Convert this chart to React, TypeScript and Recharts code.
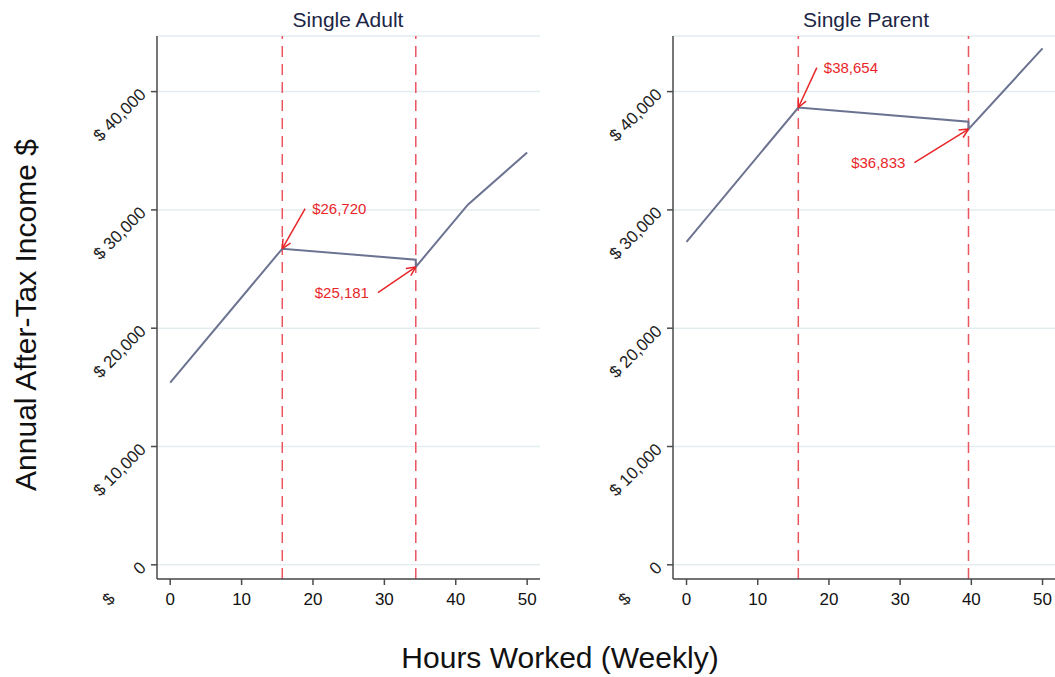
import React from 'react';
import { LineChart, Line, XAxis, YAxis, CartesianGrid, ReferenceLine } from 'recharts';

// hours worked (weekly) vs annual after-tax income
const adultHours = [0, 15.7, 34.4, 34.4, 41.7, 50];
const adultIncome = [15400, 26720, 25790, 25181, 30440, 34850];
const parentHours = [0, 15.7, 39.6, 39.6, 50];
const parentIncome = [27300, 38654, 37450, 36833, 43650];

const adultCliffs = [15.7, 34.4];
const parentCliffs = [15.7, 39.6];

const hourTicks = [0, 10, 20, 30, 40, 50];
const incomeTicks = [0, 10000, 20000, 30000, 40000];

// arrows: head at the kink, tail where the label sits
const adultNotes = [
    { label: '$26,720', hx: 15.7, hy: 26720, tx: 18.9, ty: 30100, side: 'right' },
    { label: '$25,181', hx: 34.4, hy: 25181, tx: 29.1, ty: 23000, side: 'left' },
];
const parentNotes = [
    { label: '$38,654', hx: 15.7, hy: 38654, tx: 18.3, ty: 42030, side: 'right' },
    { label: '$36,833', hx: 39.6, hy: 36833, tx: 32.0, ty: 34000, side: 'left' },
];

const FONT = '"Liberation Sans", Arial, Helvetica, sans-serif';
const RED = '#e8262a';
const DASH = '#ea5560';
const LINE = '#6b7391';
const AXIS = '#4a4a4a';

const toRows = (h: number[], v: number[]) => h.map((x, i) => ({ h: x, v: v[i] }));

const fmt = (n: number) => n.toLocaleString('en-US');

function YTick(props: any) {
    const { x, y, payload } = props;
    const tx = x - 2;
    const ty = y + 4;
    if (payload.value === 0) {
        return (
            <g transform={`translate(${tx},${ty}) rotate(-45)`} fontFamily={FONT} fontSize={17} fill="#222">
                <text x={0} y={0} textAnchor="end">0</text>
                <text x={-44} y={0} textAnchor="end">$</text>
            </g>
        );
    }
    return (
        <text
            x={tx}
            y={ty}
            transform={`rotate(-45, ${tx}, ${ty})`}
            textAnchor="end"
            fontFamily={FONT}
            fontSize={17}
            fill="#222"
        >
            {`$ ${fmt(payload.value)}`}
        </text>
    );
}

function arrowShape(label: string, side: string) {
    return (props: any) => {
        const { x1, y1, x2, y2 } = props;
        const a = Math.atan2(y2 - y1, x2 - x1);
        const len = 10;
        const w = 0.45;
        const p1 = [x2 - len * Math.cos(a - w), y2 - len * Math.sin(a - w)];
        const p2 = [x2 - len * Math.cos(a + w), y2 - len * Math.sin(a + w)];
        const lx = side === 'right' ? x1 + 7 : x1 - 9;
        return (
            <g>
                <line x1={x1} y1={y1} x2={x2} y2={y2} stroke={RED} strokeWidth={1.5} />
                <line x1={p1[0]} y1={p1[1]} x2={x2} y2={y2} stroke={RED} strokeWidth={1.5} />
                <line x1={p2[0]} y1={p2[1]} x2={x2} y2={y2} stroke={RED} strokeWidth={1.5} />
                <text
                    x={lx}
                    y={y1 + 5}
                    textAnchor={side === 'right' ? 'start' : 'end'}
                    fontFamily={FONT}
                    fontSize={15}
                    fill={RED}
                >
                    {label}
                </text>
            </g>
        );
    };
}

function Panel({ rows, cliffs, notes, domain, width }: any) {
    return (
        <LineChart width={width} height={625} data={rows} margin={{ top: 36, right: 5, bottom: 0, left: 0 }}>
            <CartesianGrid vertical={false} stroke="#e3edef" strokeWidth={1.5} />
            <XAxis
                dataKey="h"
                type="number"
                domain={domain}
                ticks={hourTicks}
                allowDataOverflow
                height={46}
                tickMargin={8}
                tick={{ fontFamily: FONT, fontSize: 17, fill: '#111' }}
                stroke={AXIS}
                strokeWidth={1.5}
            />
            <YAxis
                type="number"
                domain={[-1200, 44700]}
                ticks={incomeTicks}
                allowDataOverflow
                width={157}
                tick={<YTick />}
                stroke={AXIS}
                strokeWidth={1.5}
            />
            {cliffs.map((c: number) => (
                <ReferenceLine key={c} x={c} stroke={DASH} strokeWidth={1.5} strokeDasharray="11 7" />
            ))}
            <Line
                dataKey="v"
                type="linear"
                stroke={LINE}
                strokeWidth={2}
                dot={false}
                isAnimationActive={false}
            />
            {notes.map((n: any) => (
                <ReferenceLine
                    key={n.label}
                    segment={[{ x: n.tx, y: n.ty }, { x: n.hx, y: n.hy }]}
                    shape={arrowShape(n.label, n.side)}
                />
            ))}
        </LineChart>
    );
}

const titleStyle: React.CSSProperties = {
    position: 'absolute',
    top: 7,
    fontFamily: FONT,
    fontSize: 21,
    lineHeight: '26px',
    color: '#1c2645',
    width: 300,
    textAlign: 'center',
};

export default function App() {
    return (
        <div style={{ position: 'absolute', left: 0, top: 0, width: 1055, height: 677, background: '#fff', overflow: 'hidden' }}>
            <div style={{ position: 'absolute', left: 0, top: 0 }}>
                <Panel rows={toRows(adultHours, adultIncome)} cliffs={adultCliffs} notes={adultNotes} domain={[-1.85, 51.8]} width={545} />
            </div>
            <div style={{ position: 'absolute', left: 516, top: 0 }}>
                <Panel rows={toRows(parentHours, parentIncome)} cliffs={parentCliffs} notes={parentNotes} domain={[-1.9, 51.75]} width={544} />
            </div>
            <div style={{ ...titleStyle, left: 348 - 150 }}>Single Adult</div>
            <div style={{ ...titleStyle, left: 866 - 150 }}>Single Parent</div>
            <div
                style={{
                    position: 'absolute',
                    left: 26,
                    top: 315,
                    transform: 'translate(-50%, -50%) rotate(-90deg)',
                    fontFamily: FONT,
                    fontSize: 30,
                    color: '#111',
                    whiteSpace: 'nowrap',
                }}
            >
                Annual After-Tax Income $
            </div>
            <div
                style={{
                    position: 'absolute',
                    left: 560,
                    top: 658,
                    transform: 'translate(-50%, -50%)',
                    fontFamily: FONT,
                    fontSize: 30,
                    color: '#111',
                    whiteSpace: 'nowrap',
                }}
            >
                Hours Worked (Weekly)
            </div>
        </div>
    );
}
